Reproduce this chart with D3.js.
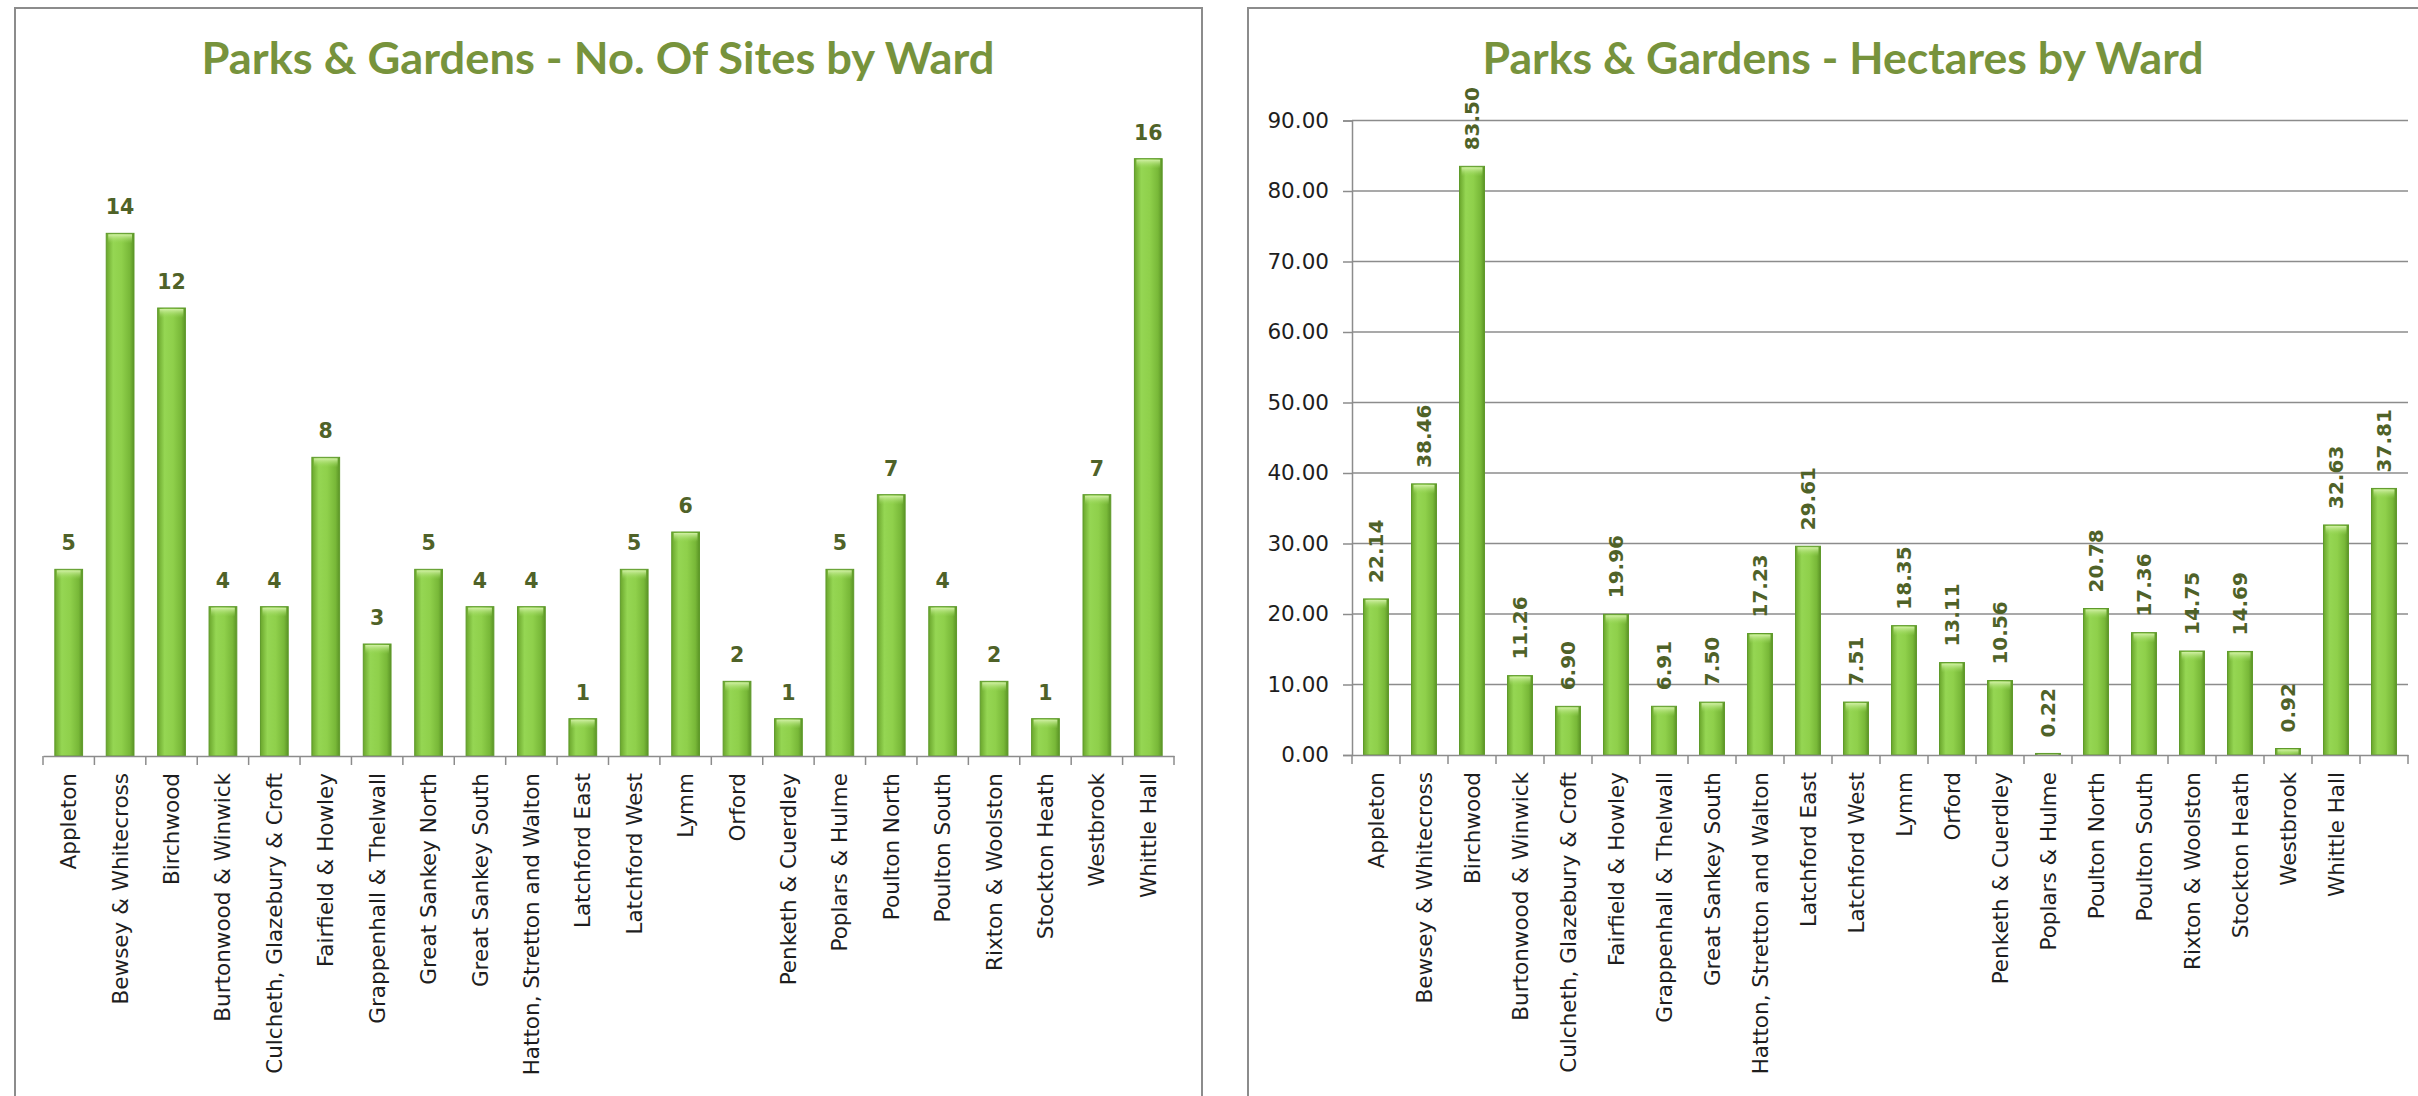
<!DOCTYPE html>
<html>
<head>
<meta charset="utf-8">
<script src="https://cdn.jsdelivr.net/npm/d3@7"></script>
<style>
  body { margin: 0; background: #fff; }
  svg { display: block; }
</style>
</head>
<body>
<div id="viz"></div>
<script>
// ---- data ----
const sitesWards = ["Appleton", "Bewsey & Whitecross", "Birchwood", "Burtonwood & Winwick",
  "Culcheth, Glazebury & Croft", "Fairfield & Howley", "Grappenhall & Thelwall", "Great Sankey North",
  "Great Sankey South", "Hatton, Stretton and Walton", "Latchford East", "Latchford West", "Lymm",
  "Orford", "Penketh & Cuerdley", "Poplars & Hulme", "Poulton North", "Poulton South",
  "Rixton & Woolston", "Stockton Heath", "Westbrook", "Whittle Hall"]
const sitesCount = [5, 14, 12, 4, 4, 8, 3, 5, 4, 4, 1, 5, 6, 2, 1, 5, 7, 4, 2, 1, 7, 16]

// the hectares chart in the source has one label fewer than bars (last slot blank)
const hectareWards = ["Appleton", "Bewsey & Whitecross", "Birchwood", "Burtonwood & Winwick",
  "Culcheth, Glazebury & Croft", "Fairfield & Howley", "Grappenhall & Thelwall", "Great Sankey South",
  "Hatton, Stretton and Walton", "Latchford East", "Latchford West", "Lymm", "Orford",
  "Penketh & Cuerdley", "Poplars & Hulme", "Poulton North", "Poulton South", "Rixton & Woolston",
  "Stockton Heath", "Westbrook", "Whittle Hall", ""]
const hectares = [22.14, 38.46, 83.50, 11.26, 6.90, 19.96, 6.91, 7.50, 17.23, 29.61, 7.51, 18.35,
  13.11, 10.56, 0.22, 20.78, 17.36, 14.75, 14.69, 0.92, 32.63, 37.81]
const hectareTicks = [0, 10, 20, 30, 40, 50, 60, 70, 80, 90]

const titles = ["Parks & Gardens - No. Of Sites by Ward", "Parks & Gardens - Hectares by Ward"]

const width = 2418
const height = 1096

const svg = d3.select("#viz").append("svg")
    .attr("width", width)
    .attr("height", height)

// bar fill: cylinder-ish shading like the Excel bars
const defs = svg.append("defs")
const grad = defs.append("linearGradient").attr("id", "barGrad")
    .attr("x1", "0%").attr("x2", "100%").attr("y1", "0%").attr("y2", "0%")
grad.append("stop").attr("offset", "0%").attr("stop-color", "#6aa62c")
grad.append("stop").attr("offset", "25%").attr("stop-color", "#95d653")
grad.append("stop").attr("offset", "55%").attr("stop-color", "#8fd04b")
grad.append("stop").attr("offset", "85%").attr("stop-color", "#78b838")
grad.append("stop").attr("offset", "100%").attr("stop-color", "#5b9426")
const capGrad = defs.append("linearGradient").attr("id", "capGrad")
    .attr("x1", "0%").attr("x2", "0%").attr("y1", "0%").attr("y2", "100%")
capGrad.append("stop").attr("offset", "0%").attr("stop-color", "#d2f0a6")
capGrad.append("stop").attr("offset", "100%").attr("stop-color", "#9ad85a").attr("stop-opacity", 0)

const titleColor = "#77933c"
const valueColor = "#4f6228"
const axisColor = "#8c8c8c"
const labelColor = "#1e1e1e"

// panel frames
svg.append("rect").attr("x", 15).attr("y", 8).attr("width", 1187).attr("height", 1200)
    .attr("fill", "none").attr("stroke", axisColor).attr("stroke-width", 2)
svg.append("rect").attr("x", 1248).attr("y", 8).attr("width", 1300).attr("height", 1200)
    .attr("fill", "none").attr("stroke", axisColor).attr("stroke-width", 2)

// titles
const titleSpec = [{ x: 598, len: 793 }, { x: 1843, len: 721 }]
titleSpec.forEach(function(t, i) {
    svg.append("text")
        .attr("x", t.x).attr("y", 74)
        .attr("text-anchor", "middle")
        .attr("textLength", t.len)
        .attr("lengthAdjust", "spacingAndGlyphs")
        .style("font-family", "Lato, 'Open Sans', sans-serif")
        .style("font-weight", 700)
        .style("font-size", "44px")
        .style("fill", titleColor)
        .text(titles[i])
})

function drawBars(g, x, y, values, labelFn) {
    const bars = g.selectAll("g.bar")
        .data(values)
        .enter().append("g").attr("class", "bar")
    bars.append("rect")
        .attr("x", function(d, i) { return x(i) })
        .attr("y", function(d) { return y(d) })
        .attr("width", x.bandwidth())
        .attr("height", function(d) { return y(0) - y(d) })
        .attr("fill", "url(#barGrad)")
        .attr("stroke", "#5e9a2a")
        .attr("stroke-width", 1)
    bars.append("rect")
        .attr("x", function(d, i) { return x(i) + 2 })
        .attr("y", function(d) { return y(d) + 1 })
        .attr("width", x.bandwidth() - 4)
        .attr("height", function(d) { return Math.min(9, y(0) - y(d)) })
        .attr("fill", "url(#capGrad)")
    labelFn(bars)
}

function boundaryTicks(g, x, y0, n) {
    g.selectAll("line.bt")
        .data(d3.range(n + 1))
        .enter().append("line")
        .attr("x1", function(i) { return x.range()[0] + i * x.step() })
        .attr("x2", function(i) { return x.range()[0] + i * x.step() })
        .attr("y1", y0).attr("y2", y0 + 9)
        .attr("stroke", axisColor).attr("stroke-width", 1.5)
}

function categoryAxis(g, x, y0, names) {
    const ax = g.append("g")
        .attr("transform", "translate(0," + y0 + ")")
        .call(d3.axisBottom(x).tickSize(0).tickFormat(function(i) { return names[i] }))
    ax.select(".domain").attr("stroke", axisColor).attr("stroke-width", 1.5)
    ax.selectAll("text")
        .attr("transform", "rotate(-90)")
        .attr("x", -17).attr("y", 0)
        .attr("dy", "0.35em")
        .attr("text-anchor", "end")
        .style("font-family", "'DejaVu Sans', Verdana, sans-serif")
        .style("font-size", "21.5px")
        .style("fill", labelColor)
}

// ---- left chart: number of sites ----
const left = svg.append("g")
const x1 = d3.scaleBand().domain(d3.range(sitesCount.length)).range([43, 1174])
    .paddingInner(0.46).paddingOuter(0.23)
const y1 = d3.scaleLinear().domain([0, 18]).range([756, 84])

drawBars(left, x1, y1, sitesCount, function(bars) {
    bars.append("text")
        .attr("x", function(d, i) { return x1(i) + x1.bandwidth() / 2 })
        .attr("y", function(d) { return y1(d) - 19 })
        .attr("text-anchor", "middle")
        .style("font-family", "'DejaVu Sans', Verdana, sans-serif")
        .style("font-weight", "bold")
        .style("font-size", "20.5px")
        .style("fill", valueColor)
        .text(function(d) { return d })
})
boundaryTicks(left, x1, y1(0), sitesCount.length)
categoryAxis(left, x1, y1(0), sitesWards)

// ---- right chart: hectares ----
const right = svg.append("g")
const x2 = d3.scaleBand().domain(d3.range(hectares.length)).range([1352, 2408])
    .paddingInner(0.48).paddingOuter(0.24)
const y2 = d3.scaleLinear().domain([0, 90]).range([755, 120.5])

const yAxis = right.append("g")
    .attr("transform", "translate(1352,0)")
    .call(d3.axisLeft(y2).tickValues(hectareTicks).tickSize(9).tickPadding(14)
        .tickFormat(d3.format(".2f")))
yAxis.select(".domain").attr("stroke", axisColor).attr("stroke-width", 1.5)
yAxis.selectAll(".tick line").attr("stroke", axisColor).attr("stroke-width", 1.5)
yAxis.selectAll("text")
    .style("font-family", "'DejaVu Sans', Verdana, sans-serif")
    .style("font-size", "21.5px")
    .style("fill", labelColor)

// gridlines
right.append("g").selectAll("line")
    .data(hectareTicks.slice(1))
    .enter().append("line")
    .attr("x1", 1352).attr("x2", 2408)
    .attr("y1", function(d) { return y2(d) })
    .attr("y2", function(d) { return y2(d) })
    .attr("stroke", axisColor).attr("stroke-width", 1.5)

drawBars(right, x2, y2, hectares, function(bars) {
    bars.append("text")
        .attr("transform", function(d, i) {
            return "translate(" + (x2(i) + x2.bandwidth() / 2) + "," + (y2(d) - 16) + ") rotate(-90)"
        })
        .attr("dy", "0.35em")
        .attr("text-anchor", "start")
        .style("font-family", "'DejaVu Sans', Verdana, sans-serif")
        .style("font-weight", "bold")
        .style("font-size", "20px")
        .style("fill", valueColor)
        .text(function(d) { return d3.format(".2f")(d) })
})
boundaryTicks(right, x2, y2(0), hectares.length)
categoryAxis(right, x2, y2(0), hectareWards)
</script>
</body>
</html>
